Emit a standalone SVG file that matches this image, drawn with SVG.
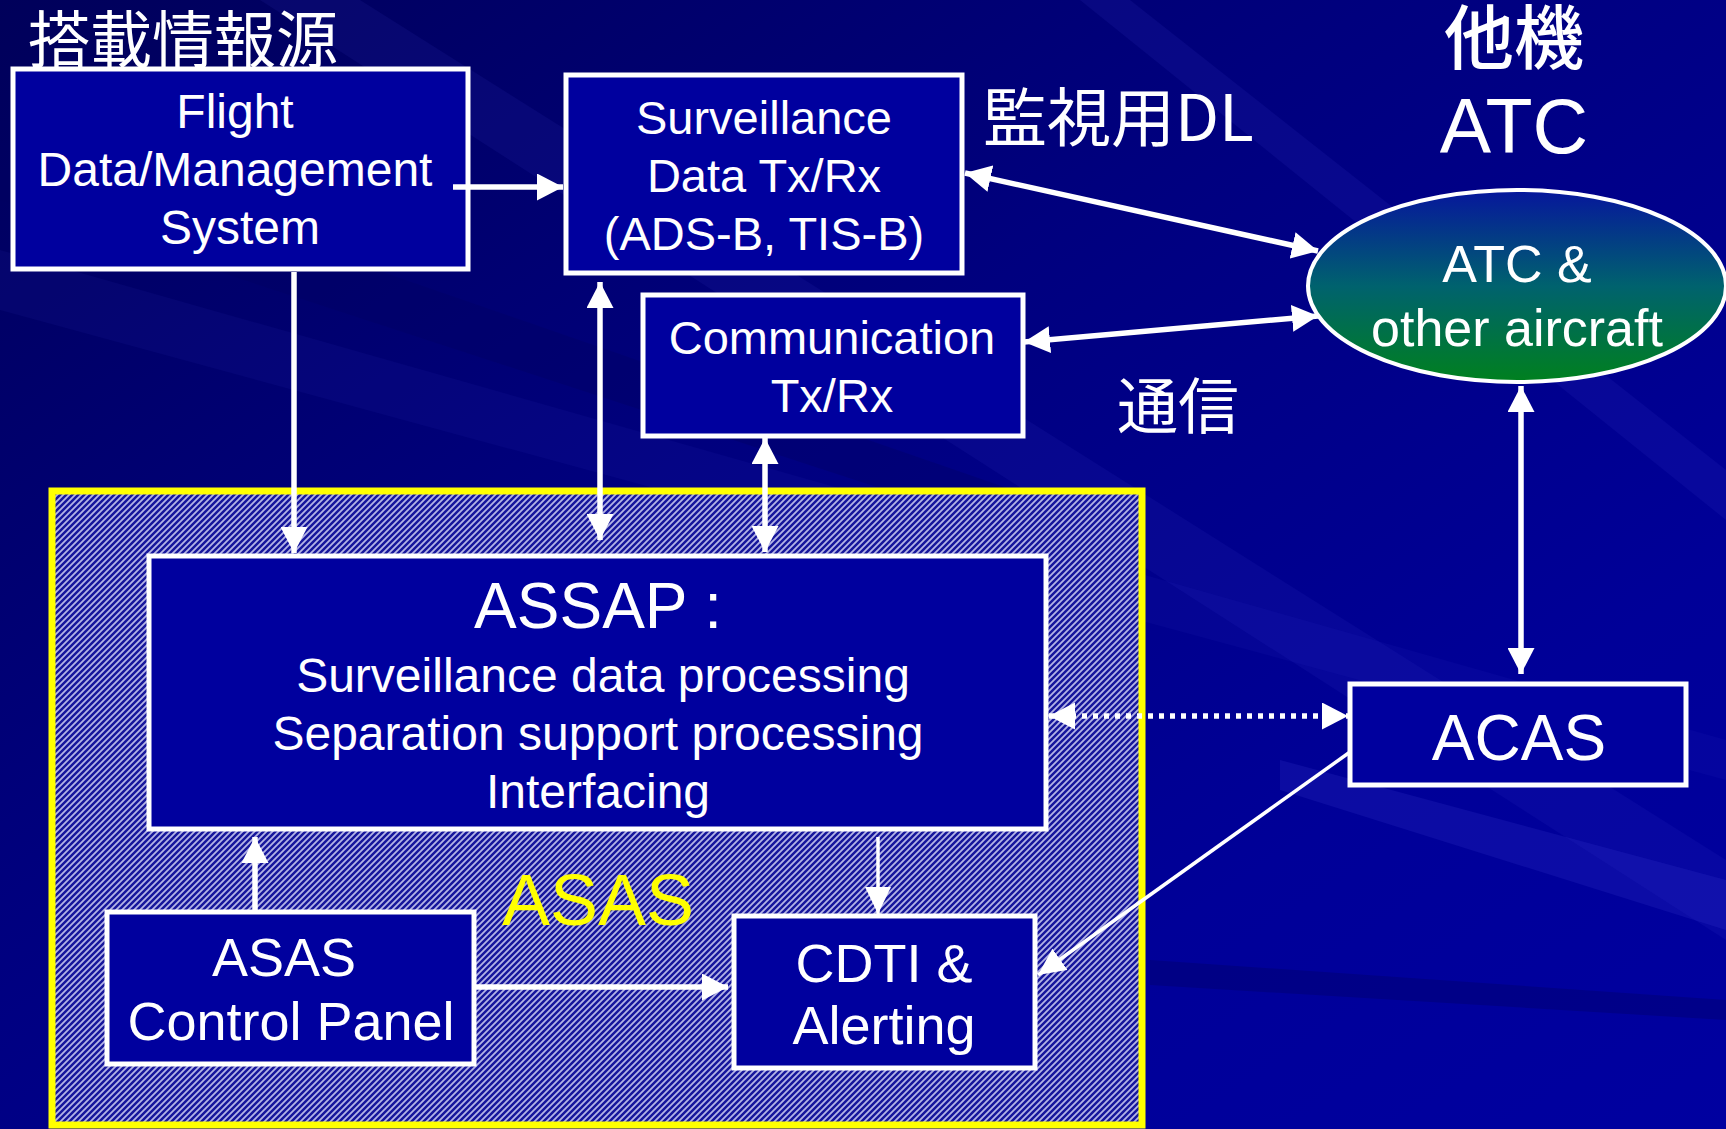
<svg xmlns="http://www.w3.org/2000/svg" width="1726" height="1129" viewBox="0 0 1726 1129">
<defs>
  <linearGradient id="bg" x1="0" y1="0" x2="1" y2="1">
    <stop offset="0" stop-color="#00005a"/>
    <stop offset="0.4" stop-color="#00007e"/>
    <stop offset="0.75" stop-color="#000098"/>
    <stop offset="1" stop-color="#0000a0"/>
  </linearGradient>
  <linearGradient id="ell" x1="0" y1="0" x2="0" y2="1">
    <stop offset="0" stop-color="#06169c"/>
    <stop offset="0.5" stop-color="#00626e"/>
    <stop offset="1" stop-color="#00801e"/>
  </linearGradient>
  <pattern id="hatch" patternUnits="userSpaceOnUse" width="6" height="6">
    <rect width="6" height="6" fill="#16169c"/>
    <path d="M0,6 L6,0 M-1,1 L1,-1 M5,7 L7,5" stroke="#b4b4e6" stroke-width="1.8"/>
  </pattern>
  <marker id="ah" viewBox="0 0 26 27" refX="26" refY="13.5" markerWidth="26" markerHeight="27" markerUnits="userSpaceOnUse" orient="auto-start-reverse">
    <path d="M0,0 L26,13.5 L0,27 z" fill="#fff"/>
  </marker>
  <marker id="ahs" viewBox="0 0 27 26" refX="27" refY="13" markerWidth="27" markerHeight="26" markerUnits="userSpaceOnUse" orient="auto-start-reverse">
    <path d="M0,0 L27,13 L0,26 z" fill="#fff"/>
  </marker>
  <style>
    .box{fill:#00009e;stroke:#fff;stroke-width:5}
    .t{font-family:"Liberation Sans",Arial,sans-serif;fill:#fff;text-anchor:middle}
    .j{font-family:"Noto Sans CJK JP","Noto Sans CJK SC",sans-serif;fill:#fff}
    .c{stroke:#fff;stroke-width:5.5;fill:none}
    .cs{stroke:#fff;stroke-width:3.5;fill:none}
  </style>
</defs>

<rect width="1726" height="1129" fill="url(#bg)"/>
<g fill="#4040d8">
  <polygon points="260,0 360,0 1726,860 1726,940" opacity="0.10"/>
  <polygon points="1080,0 1130,0 1726,470 1726,520" opacity="0.12"/>
  <polygon points="0,250 0,310 1726,780 1726,740" opacity="0.08"/>
  <polygon points="1280,760 1726,880 1726,930 1280,790" opacity="0.18"/>
</g>
<g fill="#000060" opacity="0.35">
  <polygon points="0,140 0,200 1100,560 1100,520"/>
  <polygon points="1150,960 1726,1000 1726,1020 1150,985"/>
</g>

<!-- ASAS region -->
<g id="asas">
  <rect x="52" y="491" width="1090" height="634" fill="url(#hatch)" stroke="#ffff00" stroke-width="7"/>
  <text x="598" y="925" font-family="Liberation Sans,Arial,sans-serif" font-size="72" fill="#ffff00" text-anchor="middle">ASAS</text>
</g>

<g id="label-onboard"><text class="j" x="28" y="63" font-size="62">搭載情報源</text></g>
<g id="label-dl"><text class="j" x="983" y="141" font-size="64">監視用DL</text></g>
<g id="label-comm"><text class="j" x="1117" y="429" font-size="61">通信</text></g>
<g id="label-other">
  <text class="j" x="1514" y="64" font-size="70" font-weight="500" text-anchor="middle">他機</text>
  <text class="t" x="1514" y="153" font-size="77">ATC</text>
</g>

<g id="flight">
  <rect class="box" x="13" y="69" width="455" height="200"/>
  <text class="t" font-size="48"><tspan x="235" y="128">Flight</tspan><tspan x="235" y="186">Data/Management</tspan><tspan x="240" y="244">System</tspan></text>
</g>

<g id="surveillance">
  <rect class="box" x="566" y="75" width="396" height="198"/>
  <text class="t" font-size="47"><tspan x="764" y="134">Surveillance</tspan><tspan x="764" y="192">Data Tx/Rx</tspan><tspan x="764" y="250">(ADS-B, TIS-B)</tspan></text>
</g>

<g id="communication">
  <rect class="box" x="643" y="295" width="380" height="141"/>
  <text class="t" font-size="47"><tspan x="832" y="354">Communication</tspan><tspan x="832" y="412">Tx/Rx</tspan></text>
</g>

<g id="atc">
  <ellipse cx="1517" cy="286" rx="209" ry="96" fill="url(#ell)" stroke="#fff" stroke-width="4"/>
  <text class="t" font-size="52"><tspan x="1517" y="282">ATC &amp;</tspan><tspan x="1517" y="346">other aircraft</tspan></text>
</g>

<g id="assap">
  <rect class="box" x="149" y="556" width="897" height="273"/>
  <text class="t" x="598" y="628" font-size="64">ASSAP :</text>
  <text class="t" font-size="48"><tspan x="603" y="692">Surveillance data processing</tspan><tspan x="598" y="750">Separation support processing</tspan><tspan x="598" y="808">Interfacing</tspan></text>
</g>

<g id="control-panel">
  <rect class="box" x="107" y="912" width="367" height="152"/>
  <text class="t" font-size="54"><tspan x="284" y="976">ASAS</tspan><tspan x="291" y="1040">Control Panel</tspan></text>
</g>

<g id="cdti">
  <rect class="box" x="734" y="916" width="301" height="152"/>
  <text class="t" font-size="54"><tspan x="884" y="982">CDTI &amp;</tspan><tspan x="884" y="1044">Alerting</tspan></text>
</g>

<g id="acas">
  <rect class="box" x="1350" y="684" width="336" height="101"/>
  <text class="t" x="1519" y="760" font-size="64">ACAS</text>
</g>

<g id="connectors">
  <line class="c" x1="453" y1="187" x2="563" y2="187" marker-end="url(#ah)"/>
  <line class="c" x1="294" y1="272" x2="294" y2="553" marker-end="url(#ah)"/>
  <line class="c" x1="600" y1="282" x2="600" y2="540" marker-start="url(#ah)" marker-end="url(#ah)"/>
  <line class="c" x1="765" y1="438" x2="765" y2="552" marker-start="url(#ah)" marker-end="url(#ah)"/>
  <line class="c" x1="965" y1="173" x2="1318" y2="251" marker-start="url(#ah)" marker-end="url(#ah)"/>
  <line class="c" x1="1024" y1="342" x2="1318" y2="316" marker-start="url(#ah)" marker-end="url(#ah)"/>
  <line class="c" x1="1521" y1="386" x2="1521" y2="674" marker-start="url(#ah)" marker-end="url(#ah)"/>
  <line class="c" x1="1049" y1="716" x2="1348" y2="716" stroke-width="5" stroke-dasharray="5 6" marker-start="url(#ah)" marker-end="url(#ah)"/>
  <line class="cs" x1="1350" y1="752" x2="1038" y2="975" marker-end="url(#ahs)"/>
  <line class="cs" x1="878" y1="837" x2="878" y2="914" marker-end="url(#ahs)"/>
  <line class="c" x1="255" y1="910" x2="255" y2="837" marker-end="url(#ah)"/>
  <line class="c" x1="472" y1="987" x2="728" y2="987" marker-end="url(#ah)"/>
</g>
</svg>
